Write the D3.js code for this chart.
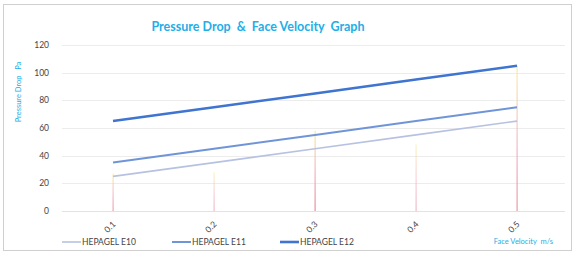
<!DOCTYPE html>
<html>
<head>
<meta charset="utf-8">
<script src="https://cdn.jsdelivr.net/npm/d3@7"></script>
<style>
  body { margin: 0; background: #fff; }
  svg { display: block; font-family: Lato, "Open Sans", sans-serif; }
</style>
</head>
<body>
<script>
(function (d3) {
  "use strict";

  /***** Data *****/
  var velocities = [0.1, 0.2, 0.3, 0.4, 0.5];
  var seriesNames = ["HEPAGEL E10", "HEPAGEL E11", "HEPAGEL E12"];
  var e10 = [25, 35, 45, 55, 65];
  var e11 = [35, 45, 55, 65, 75];
  var e12 = [65, 75, 85, 95, 105];
  var yTicks = [0, 20, 40, 60, 80, 100, 120];
  var dropTops = [27, 28, 58, 48, 105];

  var allSeries = [e10, e11, e12];
  var colors = ["#b7c2e2", "#6f95d8", "#3f74d0"];
  var widths = [1.6, 2, 2.6];

  /***** Configuration *****/
  var width = 576, height = 260;
  var margin = { top: 45, right: 59, bottom: 48, left: 62 };

  var svg = d3.select("body").append("svg")
      .attr("width", width)
      .attr("height", height);

  // frame
  svg.append("rect")
      .attr("x", 3.5).attr("y", 4.5)
      .attr("width", 568).attr("height", 246)
      .attr("fill", "#fff")
      .attr("stroke", "#cfcfcf");

  var xScale = d3.scaleLinear().domain([0.1, 0.5]).range([113, 517]);
  var yScale = d3.scaleLinear().domain([0, 120]).range([211, 45]);

  var defs = svg.append("defs");
  var grad = defs.append("linearGradient")
      .attr("id", "drop").attr("x1", 0).attr("y1", 0).attr("x2", 0).attr("y2", 1);
  grad.append("stop").attr("offset", "0%").attr("stop-color", "#f6ee9a");
  grad.append("stop").attr("offset", "50%").attr("stop-color", "#f3b7c4");
  grad.append("stop").attr("offset", "100%").attr("stop-color", "#e58e9e");

  /***** Grid *****/
  svg.append("g").selectAll("line")
      .data(yTicks.slice(1))
      .join("line")
      .attr("x1", margin.left).attr("x2", 565)
      .attr("y1", function (d) { return Math.round(yScale(d)) + 0.5; })
      .attr("y2", function (d) { return Math.round(yScale(d)) + 0.5; })
      .attr("stroke", "#ececec");

  svg.append("line")
      .attr("x1", margin.left).attr("x2", 565)
      .attr("y1", yScale(0) + 0.5).attr("y2", yScale(0) + 0.5)
      .attr("stroke", "#e2e2e2");

  /***** Drop lines *****/
  svg.append("g").selectAll("rect")
      .data(velocities)
      .join("rect")
      .attr("x", function (d) { return xScale(d) - 0.5; })
      .attr("width", 1.2)
      .attr("y", function (d, i) { return yScale(dropTops[i]); })
      .attr("height", function (d, i) { return yScale(0) - yScale(dropTops[i]); })
      .attr("fill", "url(#drop)")
      .attr("opacity", function (d, i) { return [0.8, 0.6, 1, 0.6, 0.9][i]; });

  /***** Axes labels *****/
  svg.append("g").selectAll("text")
      .data(yTicks)
      .join("text")
      .attr("x", 49)
      .attr("y", function (d) { return yScale(d) + 3; })
      .attr("text-anchor", "end")
      .attr("font-size", 8.5)
      .attr("fill", "#444")
      .text(function (d) { return d; });

  svg.append("g").selectAll("text")
      .data(velocities)
      .join("text")
      .attr("transform", function (d) {
        return "translate(" + (xScale(d) - 1) + ",229) rotate(-45)";
      })
      .attr("text-anchor", "middle")
      .attr("font-size", 8.5)
      .attr("fill", "#444")
      .text(function (d) { return d.toFixed(1); });

  /***** Series lines *****/
  var line = d3.line()
      .x(function (d, i) { return xScale(velocities[i]); })
      .y(function (d) { return yScale(d); });

  svg.append("g").selectAll("path")
      .data(allSeries)
      .join("path")
      .attr("d", line)
      .attr("fill", "none")
      .attr("stroke", function (d, i) { return colors[i]; })
      .attr("stroke-width", function (d, i) { return widths[i]; });

  /***** Titles *****/
  svg.append("text")
      .attr("x", 258).attr("y", 31)
      .attr("text-anchor", "middle")
      .attr("font-size", 12.5)
      .attr("font-weight", "bold")
      .attr("fill", "#22aee8")
      .attr("xml:space", "preserve")
      .text("Pressure Drop  &  Face Velocity  Graph");

  svg.append("text")
      .attr("transform", "translate(21,92) rotate(-90)")
      .attr("text-anchor", "middle")
      .attr("font-size", 7.5)
      .attr("fill", "#22aee8")
      .attr("xml:space", "preserve")
      .text("Pressure Drop   Pa");

  svg.append("text")
      .attr("x", 553).attr("y", 244)
      .attr("text-anchor", "end")
      .attr("font-size", 7.5)
      .attr("fill", "#22aee8")
      .attr("xml:space", "preserve")
      .text("Face Velocity  m/s");

  /***** Legend *****/
  var legendX = [62, 172, 280];
  var legend = svg.append("g").selectAll("g")
      .data(seriesNames)
      .join("g")
      .attr("transform", function (d, i) { return "translate(" + legendX[i] + ",242)"; });

  legend.append("line")
      .attr("x1", 0).attr("x2", 19)
      .attr("stroke", function (d, i) { return colors[i]; })
      .attr("stroke-width", function (d, i) { return widths[i]; });

  legend.append("text")
      .attr("x", 20).attr("y", 3)
      .attr("font-size", 8.5)
      .attr("fill", "#444")
      .text(function (d) { return d; });

})(d3);
</script>
</body>
</html>
